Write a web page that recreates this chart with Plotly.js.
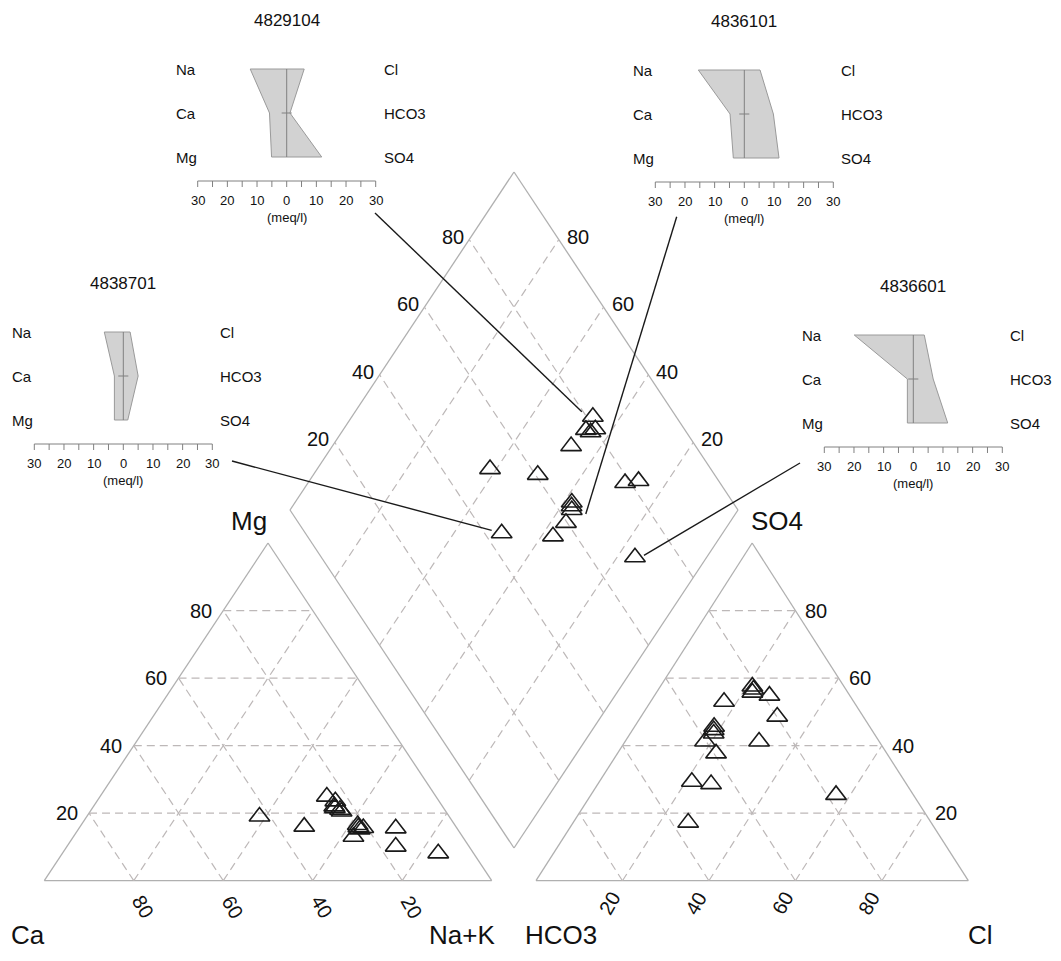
<!DOCTYPE html>
<html><head><meta charset="utf-8">
<script src="https://cdn.plot.ly/plotly-3.0.1.min.js"></script>
<style>html,body{margin:0;padding:0;background:#fff}#chart{width:1061px;height:961px}</style>
</head><body><div id="chart"></div>
<script>
// ---------------- DATA (percent of meq/l) ----------------
const sampleIds = ['S01','S02','S03','S04','S05','S06','S07','S08','S09','S10','S11','S12','S13','S14','S15','S16'];
const caPct   = [24.2,24.3,23.3,23.4,23.2,42.4,33.9,13.7,16.4,21.7,21.9,21.9,20.9,24.4,24.4,7.9];
const mgPct   = [22.0,21.5,20.5,21.0,23.5,19.0,16.0,15.5,10.1,16.5,15.8,15.2,15.6,13.0,24.9,8.1];
const nakPct  = [53.8,54.2,56.2,55.6,53.3,38.6,50.1,70.8,73.5,61.8,62.3,62.9,63.5,62.6,50.7,84.0];
const hco3Pct = [18.6,22.1,19.9,21.4,27.8,49.3,39.5,21.2,17.9,36.0,36.6,37.1,40.3,45.2,56.2,30.0];
const so4Pct  = [54.8,55.7,48.6,56.6,41.2,29.3,37.7,57.5,25.4,45.6,44.6,43.6,41.2,28.6,17.2,53.0];
const clPct   = [26.6,22.2,31.5,22.0,31.0,21.4,22.8,21.3,56.7,18.4,18.8,19.3,18.5,26.2,26.6,17.0];

// Stiff diagrams (meq/l)
const stiffIds   = ['4829104','4836101','4838701','4836601'];
const stiffNa    = [12.3, 15.5, 6.4, 19.9];
const stiffCa    = [5.8, 4.8, 3.0, 2.0];
const stiffMg    = [5.1, 3.7, 3.0, 2.0];
const stiffCl    = [5.9, 5.3, 2.3, 3.7];
const stiffHCO3  = [1.1, 9.8, 5.0, 6.7];
const stiffSO4   = [11.8, 11.7, 1.5, 11.6];
const stiffSample = [0, 11, 14, 15];   // which sample each Stiff diagram points to

const gridVals = [20, 40, 60, 80];
const stiffTicks = [-30,-25,-20,-15,-10,-5,0,5,10,15,20,25,30];
const stiffTickLabels = [-30,-20,-10,0,10,20,30];

// ---------------- LAYOUT GEOMETRY (pixel-like units) ----------------
const LT = {x0:44.3, w:447.4, yb:880.7, h:337.7};
const RT = {x0:536, w:432.3, yb:880.7, h:337.7};
const DM = {bx:514, by:848, dx:224, dy:338};
const stiffPos = [ {cx:286.7, y:69}, {cx:744.3, y:70}, {cx:123.3, y:332}, {cx:913.3, y:335} ];
const stiffPx = 89/30;
const connStart = [[375,213],[676.7,216.7],[232,461],[800,463]];
const connEndOff = [[-11,-5],[14,4],[-10,-3],[9,-2]];

function ptL(ca, mg, nak){ return [LT.x0 + LT.w*(nak + mg/2)/100, LT.yb - LT.h*mg/100]; }
function ptR(hco3, so4, cl){ return [RT.x0 + RT.w*(cl + so4/2)/100, RT.yb - RT.h*so4/100]; }
function ptD(a, b){ return [DM.bx + DM.dx*(b - a), DM.by - DM.dy*(a + b)]; } // a=(Ca+Mg)/100, b=(SO4+Cl)/100

const traces = [];
const FRAME = '#b0b0b0', GRID = '#bdb8b8';
function seg(arr, p, q){ arr.x.push(p[0], q[0], null); arr.y.push(p[1], q[1], null); }

// frames
const fr = {x:[], y:[]};
[[ptL(100,0,0),ptL(0,0,100)],[ptL(0,0,100),ptL(0,100,0)],[ptL(0,100,0),ptL(100,0,0)],
 [ptR(100,0,0),ptR(0,0,100)],[ptR(0,0,100),ptR(0,100,0)],[ptR(0,100,0),ptR(100,0,0)],
 [ptD(0,0),ptD(1,0)],[ptD(1,0),ptD(1,1)],[ptD(1,1),ptD(0,1)],[ptD(0,1),ptD(0,0)]].forEach(s=>seg(fr,s[0],s[1]));
traces.push({type:'scatter', mode:'lines', x:fr.x, y:fr.y, line:{color:FRAME, width:1.3}, hoverinfo:'skip'});

// grids
const gr = {x:[], y:[]};
gridVals.forEach(v=>{
  seg(gr, ptL(100-v, v, 0), ptL(0, v, 100-v));
  seg(gr, ptL(100-v, 0, v), ptL(0, 100-v, v));
  seg(gr, ptL(v, 0, 100-v), ptL(v, 100-v, 0));
  seg(gr, ptR(100-v, v, 0), ptR(0, v, 100-v));
  seg(gr, ptR(100-v, 0, v), ptR(0, 100-v, v));
  seg(gr, ptR(v, 0, 100-v), ptR(v, 100-v, 0));
  seg(gr, ptD(v/100, 0), ptD(v/100, 1));
  seg(gr, ptD(0, v/100), ptD(1, v/100));
});
traces.push({type:'scatter', mode:'lines', x:gr.x, y:gr.y, line:{color:GRID, width:1.2, dash:'8px,5px'}, hoverinfo:'skip'});

// stiff diagrams
const annotations = [];
const TXT = {family:'Liberation Sans, Arial, Helvetica, sans-serif', color:'#111'};
stiffIds.forEach((id, i)=>{
  const P = stiffPos[i], cx = P.cx, y1 = P.y, y2 = P.y+44, y3 = P.y+88;
  const X = v => cx + v*stiffPx;
  traces.push({type:'scatter', mode:'lines', fill:'toself', fillcolor:'#d2d2d2',
    x:[X(-stiffNa[i]), X(-stiffCa[i]), X(-stiffMg[i]), X(stiffSO4[i]), X(stiffHCO3[i]), X(stiffCl[i]), X(-stiffNa[i])],
    y:[y1, y2, y3, y3, y2, y1, y1], line:{color:'#9a9a9a', width:1}, hoverinfo:'skip'});
  traces.push({type:'scatter', mode:'lines', x:[X(0),X(0),null,X(-1.7),X(1.7)], y:[y1,y3,null,y2,y2],
    line:{color:'#808080', width:1}, hoverinfo:'skip'});
  // axis
  const ay = P.y+112;
  const ax = {x:[X(-30), X(30), null], y:[ay, ay, null]};
  stiffTicks.forEach(t=>{ ax.x.push(X(t), X(t), null); ax.y.push(ay, ay+6, null); });
  traces.push({type:'scatter', mode:'lines', x:ax.x, y:ax.y, line:{color:'#808080', width:1}, hoverinfo:'skip'});
  stiffTickLabels.forEach(t=>annotations.push({x:X(t), y:ay+19, text:String(Math.abs(t)), showarrow:false, font:{...TXT, size:13}}));
  annotations.push({x:cx, y:ay+36, text:'(meq/l)', showarrow:false, font:{...TXT, size:13}});
  annotations.push({x:cx, y:P.y-49, text:id, showarrow:false, font:{...TXT, size:17}});
  [['Na',y1],['Ca',y2],['Mg',y3]].forEach(r=>annotations.push({x:cx-113, y:r[1], text:r[0], xanchor:'left', showarrow:false, font:{...TXT, size:15}}));
  [['Cl',y1],['HCO3',y2],['SO4',y3]].forEach(r=>annotations.push({x:cx+95, y:r[1], text:r[0], xanchor:'left', showarrow:false, font:{...TXT, size:15}}));
  // connector
  const s = stiffSample[i];
  const d = ptD((caPct[s]+mgPct[s])/100, (so4Pct[s]+clPct[s])/100);
  traces.push({type:'scatter', mode:'lines', x:[connStart[i][0], d[0]+connEndOff[i][0]], y:[connStart[i][1], d[1]+connEndOff[i][1]],
    line:{color:'#1a1a1a', width:1.4}, hoverinfo:'skip'});
});

// points
const mk = {symbol:'triangle-up-open', size:18, color:'#1a1a1a', line:{width:1.6, color:'#1a1a1a'}};
const cat = sampleIds.map((s,i)=>ptL(caPct[i], mgPct[i], nakPct[i]));
const ani = sampleIds.map((s,i)=>ptR(hco3Pct[i], so4Pct[i], clPct[i]));
const dia = sampleIds.map((s,i)=>ptD((caPct[i]+mgPct[i])/100, (so4Pct[i]+clPct[i])/100));
[cat, ani, dia].forEach(arr=>traces.push({type:'scatter', mode:'markers', x:arr.map(p=>p[0]), y:arr.map(p=>p[1]),
  text:sampleIds, marker:mk, hoverinfo:'text'}));

// axis tick labels
gridVals.forEach(v=>{
  let p = ptL(100-v, v, 0); annotations.push({x:p[0]-22.5, y:p[1], text:String(v), showarrow:false, font:{...TXT, size:20}});
  p = ptL(v, 0, 100-v); annotations.push({x:p[0]+9.5, y:p[1]+26, text:String(v), textangle:60, showarrow:false, font:{...TXT, size:20}});
  p = ptR(0, v, 100-v); annotations.push({x:p[0]+21, y:p[1], text:String(v), showarrow:false, font:{...TXT, size:20}});
  p = ptR(100-v, 0, v); annotations.push({x:p[0]-12.5, y:p[1]+22.6, text:String(v), textangle:-60, showarrow:false, font:{...TXT, size:20}});
  p = ptD(1, v/100); annotations.push({x:p[0]-16.5, y:p[1]-3, text:String(v), showarrow:false, font:{...TXT, size:20}});
  p = ptD(v/100, 1); annotations.push({x:p[0]+19, y:p[1]-3, text:String(v), showarrow:false, font:{...TXT, size:20}});
});
// corner labels
[['Ca',9,935,'left'],['Na+K',497,935,'right'],['HCO3',523,935,'left'],['Cl',980,935,'center'],
 ['Mg',249,521,'center'],['SO4',777,521,'center']].forEach(c=>annotations.push({x:c[1], y:c[2], text:c[0], xanchor:c[3], showarrow:false, font:{...TXT, size:26}}));

const layout = {
  width:1061, height:961, margin:{l:0,r:0,t:0,b:0}, showlegend:false,
  paper_bgcolor:'#fff', plot_bgcolor:'#fff',
  xaxis:{range:[0,1061], visible:false, fixedrange:true},
  yaxis:{range:[961,0], visible:false, fixedrange:true},
  annotations:annotations
};
Plotly.newPlot('chart', traces, layout, {displayModeBar:false, staticPlot:true});
</script>
</body></html>
